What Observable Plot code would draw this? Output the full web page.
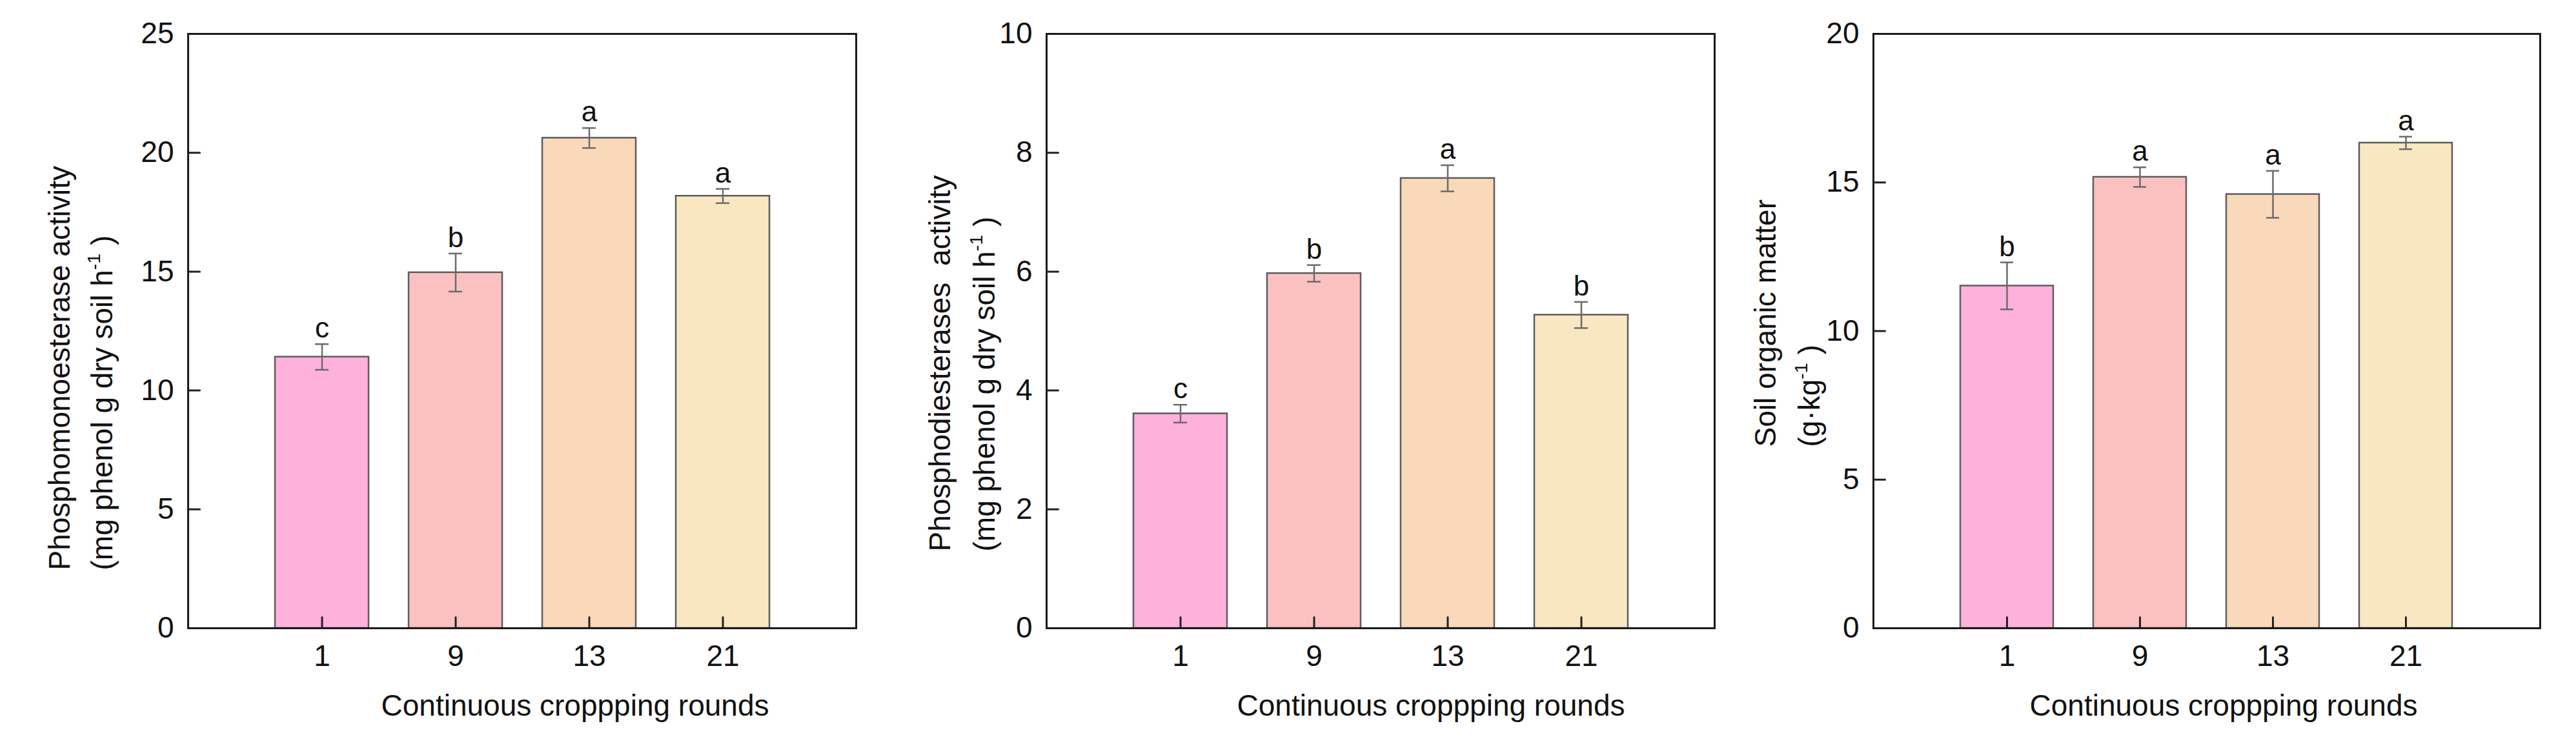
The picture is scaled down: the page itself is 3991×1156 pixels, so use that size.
<!DOCTYPE html>
<html>
<head>
<meta charset="utf-8">
<script src="https://cdn.jsdelivr.net/npm/d3@7"></script>
<script src="https://cdn.jsdelivr.net/npm/@observablehq/plot@0.6"></script>
<style>
  html, body { margin: 0; padding: 0; background: #fff; }
  #wrap { position: relative; width: 3991px; height: 1156px; background: #fff; overflow: hidden; }
  .panel { position: absolute; top: 0; }
</style>
</head>
<body>
<div id="wrap"></div>
<script>
// ---------- data ----------
const rounds = ["1", "9", "13", "21"];
const barColors = ["#FEB1DA", "#FBC1C1", "#F9D9BA", "#F8E7C1"];
const xTitle = "Continuous croppping rounds";

const pmeMean = [11.41, 14.96, 20.62, 18.18];
const pmeErr = [0.54, 0.80, 0.42, 0.30];
const pmeLetters = ["c", "b", "a", "a"];
const pmeTicks = [0, 5, 10, 15, 20, 25];
const pmeTitle = ["Phosphomonoesterase activity", "(mg phenol g dry soil h⁻¹)"];

const pdeMean = [3.61, 5.97, 7.57, 5.27];
const pdeErr = [0.15, 0.14, 0.22, 0.22];
const pdeLetters = ["c", "b", "a", "b"];
const pdeTicks = [0, 2, 4, 6, 8, 10];
const pdeTitle = ["Phosphodiesterases  activity", "(mg phenol g dry soil h⁻¹)"];

const somMean = [11.52, 15.18, 14.60, 16.33];
const somErr = [0.79, 0.33, 0.79, 0.21];
const somLetters = ["b", "a", "a", "a"];
const somTicks = [0, 5, 10, 15, 20];
const somTitle = ["Soil organic matter", "(g·kg⁻¹)"];

// ---------- drawing ----------
const FS = 46;
const lineShape = {draw(ctx, l) { ctx.moveTo(0, 0); ctx.lineTo(0, -l); }};

function superscripts(svg) {
  const ns = "http://www.w3.org/2000/svg";
  svg.querySelectorAll("text, tspan").forEach(el => {
    if (el.childNodes.length === 1 && el.firstChild.nodeType === 3 && el.textContent.includes("⁻¹")) {
      const [a, b] = el.textContent.split("⁻¹");
      el.textContent = a;
      const sup = document.createElementNS(ns, "tspan");
      sup.setAttribute("font-size", FS * 0.62);
      sup.setAttribute("dy", -FS * 0.4);
      sup.textContent = "-1";
      const rest = document.createElementNS(ns, "tspan");
      rest.setAttribute("dy", FS * 0.4);
      rest.textContent = " " + b;
      el.appendChild(sup);
      el.appendChild(rest);
    }
  });
}

function panel(cfg) {
  const data = rounds.map((r, i) => ({round: r, mean: cfg.mean[i], err: cfg.err[i], letter: cfg.letters[i]}));
  const plot = Plot.plot({
    width: cfg.width,
    height: 1156,
    marginLeft: cfg.ml,
    marginRight: cfg.mr,
    marginTop: 52,
    marginBottom: 183,
    style: {fontFamily: "'Liberation Sans', Arial, sans-serif", fontSize: FS + "px", color: "#111", background: "transparent", overflow: "visible"},
    x: {type: "band", domain: rounds, paddingInner: 0.3, paddingOuter: 0.65},
    y: {domain: [0, cfg.ticks[cfg.ticks.length - 1]]},
    color: {domain: rounds, range: barColors},
    marks: [
      Plot.barY(data, {x: "round", y: "mean", fill: "round", stroke: "#5c5c5c", strokeWidth: 2.5}),
      Plot.ruleX(data, {x: "round", y1: d => d.mean - d.err, y2: d => d.mean + d.err, stroke: "#6b6b6b", strokeWidth: 2.5}),
      Plot.tickY(data, {x: "round", y: d => d.mean + d.err, stroke: "#6b6b6b", strokeWidth: 2.5, insetLeft: 62, insetRight: 62}),
      Plot.tickY(data, {x: "round", y: d => d.mean - d.err, stroke: "#6b6b6b", strokeWidth: 2.5, insetLeft: 62, insetRight: 62}),
      Plot.text(data, {x: "round", y: d => d.mean + d.err, text: "letter", lineAnchor: "bottom", dy: -10, fontSize: 44, fill: "#111"}),
      Plot.axisY({ticks: cfg.ticks, tickSize: 0, tickPadding: 22, label: null, tickFormat: d => String(d)}),
      Plot.axisX({tickSize: 0, tickPadding: 26, label: null}),
      Plot.vector(cfg.ticks, {y: d => d, frameAnchor: "left", rotate: 90, length: 18, anchor: "start", shape: lineShape, stroke: "#222", strokeWidth: 3}),
      Plot.vector(rounds, {x: d => d, frameAnchor: "bottom", length: 17, anchor: "start", shape: lineShape, stroke: "#222", strokeWidth: 3}),
      Plot.frame({stroke: "#1a1a1a", strokeWidth: 3}),
      Plot.text([xTitle], {text: d => d, frameAnchor: "bottom", lineAnchor: "bottom", dx: cfg.xdx, dy: 135, fontSize: FS, fill: "#111"}),
      Plot.text([cfg.title[0]], {text: d => d, frameAnchor: "bottom-left", rotate: -90, textAnchor: "start", dx: cfg.t1dx, dy: cfg.tdy, fontSize: FS, fill: "#111"}),
      Plot.text([cfg.title[1]], {text: d => d, frameAnchor: "bottom-left", rotate: -90, textAnchor: "start", dx: cfg.t2dx, dy: cfg.tdy, fontSize: FS, fill: "#111"})
    ]
  });
  superscripts(plot);
  const div = document.createElement("div");
  div.className = "panel";
  div.style.left = cfg.left + "px";
  div.appendChild(plot);
  document.getElementById("wrap").appendChild(div);
}

panel({left: 0, width: 1330, ml: 291, mr: 4, mean: pmeMean, err: pmeErr, letters: pmeLetters, ticks: pmeTicks, title: pmeTitle,
       xdx: 82, t1dx: -184, t2dx: -118, tdy: -90});
panel({left: 1330, width: 1330, ml: 291, mr: 4, mean: pdeMean, err: pdeErr, letters: pdeLetters, ticks: pdeTicks, title: pdeTitle,
       xdx: 78, t1dx: -150, t2dx: -81, tdy: -119});
panel({left: 2660, width: 1331, ml: 242, mr: 56, mean: somMean, err: somErr, letters: somLetters, ticks: somTicks, title: somTitle,
       xdx: 26, t1dx: -152, t2dx: -84, tdy: -281});
</script>
</body>
</html>
